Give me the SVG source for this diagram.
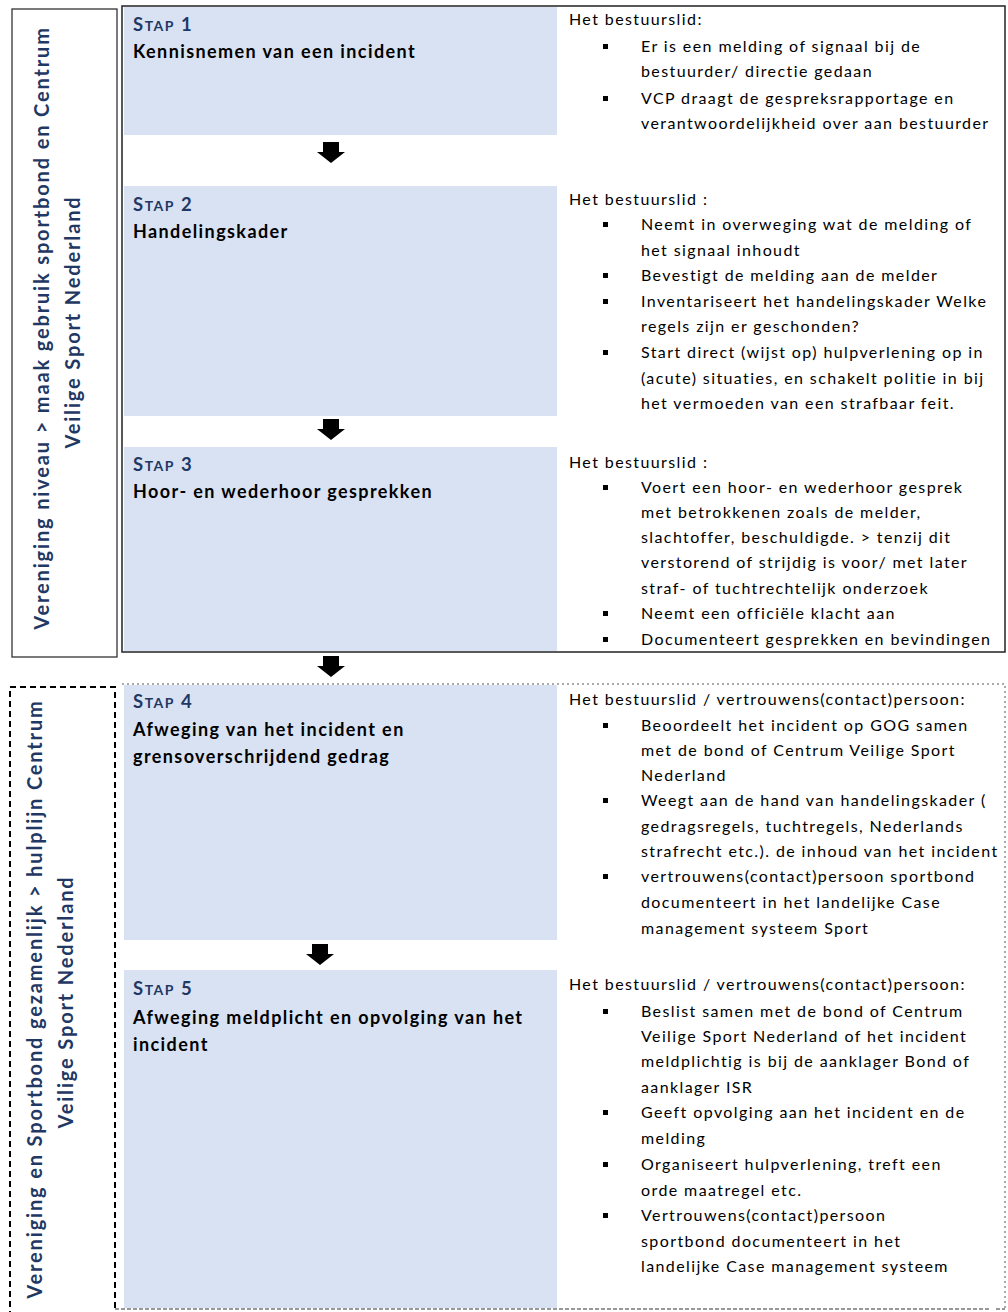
<svg xmlns="http://www.w3.org/2000/svg" width="1008" height="1312" viewBox="0 0 1008 1312">
<style>
.panel{fill:#D9E2F3}
.stap{font-family:Lato,"Liberation Sans",sans-serif;font-weight:bold;fill:#1F3864;font-size:18.5px;letter-spacing:1.5px}
.sc{font-size:14px}
.title{font-family:Lato,"Liberation Sans",sans-serif;font-weight:bold;fill:#000;font-size:18px;letter-spacing:1.4px}
.body{font-family:Lato,"Liberation Sans",sans-serif;fill:#000;font-size:16px;letter-spacing:1.4px}
.side{font-family:Lato,"Liberation Sans",sans-serif;font-weight:bold;fill:#1F3864;font-size:20px;letter-spacing:1.85px;text-anchor:middle}
.bul{fill:#000}
.arrow{fill:#000}
</style>
<defs>
<rect id="b" width="5" height="5" class="bul"/>
<path id="arr" d="M-8,0 H8 V10 H14 L0,21 L-14,10 H-8 Z" class="arrow"/>
</defs>

<!-- side boxes -->
<g id="side1">
<rect x="12" y="9" width="105" height="648" fill="#fff" stroke="#333" stroke-width="1.3"/>
<text class="side" transform="translate(49,328) rotate(-90)">Vereniging niveau &gt; maak gebruik sportbond en Centrum</text>
<text class="side" transform="translate(80,322) rotate(-90)">Veilige Sport Nederland</text>
</g>
<g id="side2">
<rect x="10" y="687" width="105" height="640" fill="#fff" stroke="#000" stroke-width="2" stroke-dasharray="6,4"/>
<text class="side" transform="translate(42,999) rotate(-90)">Vereniging en Sportbond gezamenlijk &gt; hulplijn  Centrum</text>
<text class="side" transform="translate(73,1002) rotate(-90)">Veilige Sport Nederland</text>
</g>

<!-- outer frames -->
<rect x="122" y="6" width="883" height="646" fill="#fff" stroke="#222" stroke-width="1.5"/>
<path d="M122,684 H1005 V1308" fill="none" stroke="#555" stroke-width="1" stroke-dasharray="2,3"/>
<path d="M115,1309 H990 M996,1309 H1005" fill="none" stroke="#333" stroke-width="1.2" stroke-dasharray="4,2"/>

<!-- step 1 -->
<g id="step1">
<rect class="panel" x="124" y="7" width="433" height="128"/>
<text class="stap" x="133" y="31">S<tspan class="sc">TAP</tspan> 1</text>
<text class="title" x="133" y="58">Kennisnemen van een incident</text>
<text class="body" x="569" y="25">Het bestuurslid:</text>
<use href="#b" x="603" y="44"/>
<text class="body" x="641" y="52">Er is een melding of signaal bij de</text>
<text class="body" x="641" y="77">bestuurder/ directie gedaan</text>
<use href="#b" x="603" y="96"/>
<text class="body" x="641" y="104">VCP draagt de gespreksrapportage en</text>
<text class="body" x="641" y="129">verantwoordelijkheid over aan bestuurder</text>
</g>

<!-- step 2 -->
<g id="step2">
<rect class="panel" x="124" y="186" width="433" height="230"/>
<text class="stap" x="133" y="211">S<tspan class="sc">TAP</tspan> 2</text>
<text class="title" x="133" y="238">Handelingskader</text>
<text class="body" x="569" y="205">Het bestuurslid :</text>
<use href="#b" x="603" y="222"/>
<text class="body" x="641" y="230">Neemt in overweging wat de melding of</text>
<text class="body" x="641" y="256">het signaal inhoudt</text>
<use href="#b" x="603" y="273"/>
<text class="body" x="641" y="281">Bevestigt de melding aan de melder</text>
<use href="#b" x="603" y="299"/>
<text class="body" x="641" y="307">Inventariseert het handelingskader Welke</text>
<text class="body" x="641" y="332">regels zijn er geschonden?</text>
<use href="#b" x="603" y="350"/>
<text class="body" x="641" y="358">Start direct (wijst op) hulpverlening op in</text>
<text class="body" x="641" y="384">(acute) situaties, en schakelt politie in bij</text>
<text class="body" x="641" y="409">het vermoeden van een strafbaar feit.</text>
</g>

<!-- step 3 -->
<g id="step3">
<rect class="panel" x="124" y="447" width="433" height="204"/>
<text class="stap" x="133" y="471">S<tspan class="sc">TAP</tspan> 3</text>
<text class="title" x="133" y="498">Hoor- en wederhoor gesprekken</text>
<text class="body" x="569" y="468">Het bestuurslid :</text>
<use href="#b" x="603" y="485"/>
<text class="body" x="641" y="493">Voert een hoor- en wederhoor gesprek</text>
<text class="body" x="641" y="518">met betrokkenen zoals de melder,</text>
<text class="body" x="641" y="543">slachtoffer, beschuldigde. &gt; tenzij dit</text>
<text class="body" x="641" y="568">verstorend of strijdig  is voor/ met later</text>
<text class="body" x="641" y="594">straf- of tuchtrechtelijk onderzoek</text>
<use href="#b" x="603" y="611"/>
<text class="body" x="641" y="619">Neemt een officiële klacht aan</text>
<use href="#b" x="603" y="637"/>
<text class="body" x="641" y="645">Documenteert gesprekken en bevindingen</text>
</g>

<!-- step 4 -->
<g id="step4">
<rect class="panel" x="124" y="685" width="433" height="255"/>
<text class="stap" x="133" y="708">S<tspan class="sc">TAP</tspan> 4</text>
<text class="title" x="133" y="736">Afweging van het incident en</text>
<text class="title" x="133" y="763">grensoverschrijdend gedrag</text>
<text class="body" x="569" y="705">Het bestuurslid / vertrouwens(contact)persoon:</text>
<use href="#b" x="603" y="723"/>
<text class="body" x="641" y="731">Beoordeelt het incident op GOG samen</text>
<text class="body" x="641" y="756">met de bond of Centrum Veilige Sport</text>
<text class="body" x="641" y="781">Nederland</text>
<use href="#b" x="603" y="798"/>
<text class="body" x="641" y="806">Weegt aan de hand van handelingskader (</text>
<text class="body" x="641" y="832">gedragsregels, tuchtregels, Nederlands</text>
<text class="body" x="641" y="857">strafrecht etc.). de inhoud van het incident</text>
<use href="#b" x="603" y="874"/>
<text class="body" x="641" y="882">vertrouwens(contact)persoon sportbond</text>
<text class="body" x="641" y="908">documenteert in het landelijke Case</text>
<text class="body" x="641" y="934">management systeem Sport</text>
</g>

<!-- step 5 -->
<g id="step5">
<rect class="panel" x="124" y="970" width="433" height="338"/>
<text class="stap" x="133" y="995">S<tspan class="sc">TAP</tspan> 5</text>
<text class="title" x="133" y="1024">Afweging meldplicht en opvolging van het</text>
<text class="title" x="133" y="1051">incident</text>
<text class="body" x="569" y="990">Het bestuurslid / vertrouwens(contact)persoon:</text>
<use href="#b" x="603" y="1009"/>
<text class="body" x="641" y="1017">Beslist samen met de bond of Centrum</text>
<text class="body" x="641" y="1042">Veilige Sport Nederland of het incident</text>
<text class="body" x="641" y="1067">meldplichtig is bij de aanklager Bond of</text>
<text class="body" x="641" y="1093">aanklager ISR</text>
<use href="#b" x="603" y="1110"/>
<text class="body" x="641" y="1118">Geeft opvolging aan het incident en de</text>
<text class="body" x="641" y="1144">melding</text>
<use href="#b" x="603" y="1162"/>
<text class="body" x="641" y="1170">Organiseert hulpverlening, treft een</text>
<text class="body" x="641" y="1196">orde maatregel etc.</text>
<use href="#b" x="603" y="1213"/>
<text class="body" x="641" y="1221">Vertrouwens(contact)persoon</text>
<text class="body" x="641" y="1247">sportbond documenteert in het</text>
<text class="body" x="641" y="1272">landelijke Case management systeem</text>
</g>

<!-- connectors -->
<g id="connectors">
<use href="#arr" x="331" y="142"/>
<use href="#arr" x="331" y="419"/>
<use href="#arr" x="331" y="656"/>
<use href="#arr" x="320" y="944"/>
</g>
</svg>
